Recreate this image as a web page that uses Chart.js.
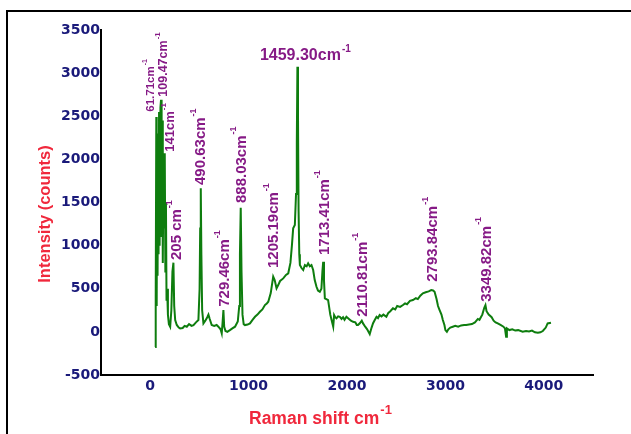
<!DOCTYPE html>
<html>
<head>
<meta charset="utf-8">
<script src="https://cdn.jsdelivr.net/npm/chart.js@4.4.0/dist/chart.umd.min.js"></script>
<style>
html,body{margin:0;padding:0;background:#fff;}
#wrap{width:631px;height:434px;position:relative;}
</style>
</head>
<body>
<div id="wrap"><canvas id="c" width="631" height="434"></canvas></div>
<script>
// Raman spectrum
const ramanShift = [50,56,62,66,70,75,80,85,90,96,104,110,116,122,128,134,140,148,154,160,166,172,180,190,203,215,226,236,244,254,270,290,304,330,350,372,395,420,440,465,490,502,508,514,520,528,541,560,580,592,605,625,650,675,693,715,727,735,744,752,765,784,810,835,862,890,905,912,920,928,938,950,963,990,1014,1040,1065,1090,1115,1140,1166,1185,1200,1225,1250,1265,1284,1300,1320,1352,1380,1403,1425,1440,1453,1470,1482,1490,1496,1502,1508,1515,1521,1538,1555,1572,1590,1605,1622,1639,1656,1672,1690,1705,1724,1740,1750,1758,1766,1775,1790,1808,1830,1852,1860,1869,1880,1893,1910,1927,1945,1960,1975,1994,2020,2040,2062,2085,2100,2112,2130,2150,2163,2185,2205,2231,2250,2265,2282,2300,2315,2332,2350,2370,2400,2420,2440,2467,2490,2510,2540,2569,2590,2610,2640,2670,2700,2720,2745,2771,2800,2830,2856,2875,2890,2910,2925,2941,2960,2974,2990,3000,3015,3030,3050,3075,3100,3130,3160,3190,3211,3240,3270,3300,3330,3346,3375,3395,3407,3418,3440,3470,3490,3510,3532,3560,3590,3605,3617,3625,3650,3680,3710,3740,3785,3820,3850,3880,3910,3940,3965,3990,4020,4039,4073];
const intensity = [-175,400,2490,300,1900,650,2300,900,2550,1000,2600,2690,1100,2450,800,1900,1200,2070,700,1500,360,500,200,90,60,250,700,802,300,137,80,50,40,45,70,60,90,70,79,110,137,500,1200,1664,900,250,98,130,170,200,150,79,70,80,60,30,-17,100,253,60,10,1,20,40,60,120,300,900,1440,700,200,90,79,85,98,140,175,200,233,260,311,330,349,450,640,600,505,540,590,620,660,679,800,1000,1200,1239,1600,2200,3075,2500,1400,900,775,740,717,775,760,795,760,775,717,600,523,480,465,500,700,813,600,389,380,369,200,98,60,195,170,157,180,175,150,170,140,175,150,130,117,110,80,79,100,130,98,60,30,-26,50,100,137,175,160,195,180,200,175,220,240,273,260,300,290,311,330,320,360,369,390,380,420,447,460,470,485,480,465,380,300,253,200,137,80,20,1,30,50,60,70,60,75,80,79,85,90,110,150,140,200,280,311,240,200,170,130,110,98,80,60,40,-57,40,21,30,15,20,1,10,5,15,-5,-10,-5,10,50,98,106];

// Axis ticks
const xTicks = [0,1000,2000,3000,4000];
const yMin = -500, yMax = 3500, yStep = 500;
const xMin = -500, xMax = 4500;

// Peak annotations (rotated), anchored at text bottom in data coords
const peakLabels = ['61.71cm','109.47cm','141cm','205 cm','490.63cm','729.46cm','888.03cm','1205.19cm','1713.41cm','2110.81cm','2793.84cm','3349.82cm'];
const peakLabelX = [5,137,203,269,517,760,928,1257,1775,2160,2870,3417];
const peakLabelY = [2553,2727,2089,833,1703,291,1494,740,891,175,581,349];
const peakLabelSize = [11.5,12.5,13,15,15,15,15,15,15,15,15,15];
// Horizontal annotation
const topLabel = '1459.30cm';
const topLabelX = 1115, topLabelY = 3199;

const FONT = '"Liberation Sans", Arial, sans-serif';
const PURPLE = '#861a86';
const RED = '#f0283c';
const NAVY = '#1a1a7a';

const points = ramanShift.map((x,i)=>({x:x,y:intensity[i]}));

function rotLabel(ctx, text, px, py, size){
  ctx.save();
  ctx.translate(px, py);
  ctx.rotate(-Math.PI/2);
  ctx.font = 'bold ' + size + 'px ' + FONT;
  ctx.textAlign = 'left';
  ctx.textBaseline = 'middle';
  ctx.fillText(text, 0, 0);
  const w = ctx.measureText(text).width;
  ctx.font = 'bold ' + Math.round(size*0.6) + 'px ' + FONT;
  ctx.fillText('-1', w + 1, -size*0.5);
  ctx.restore();
}

const annot = {
  id: 'annot',
  beforeDraw(chart){
    const c = chart.ctx;
    c.save();
    c.fillStyle = '#fff';
    c.fillRect(0,0,chart.width,chart.height);
    c.strokeStyle = '#000';
    c.lineWidth = 2;
    c.beginPath();
    c.moveTo(7, chart.height);
    c.lineTo(7, 11);
    c.lineTo(chart.width, 11);
    c.stroke();
    c.restore();
  },
  afterDraw(chart){
    const c = chart.ctx;
    const xs = chart.scales.x, ys = chart.scales.y;
    c.save();
    c.fillStyle = PURPLE;
    for (let i=0;i<peakLabels.length;i++){
      rotLabel(c, peakLabels[i], xs.getPixelForValue(peakLabelX[i]), ys.getPixelForValue(peakLabelY[i]), peakLabelSize[i]);
    }
    // horizontal top label
    c.font = 'bold 16px ' + FONT;
    c.textAlign = 'left';
    c.textBaseline = 'middle';
    const tx = xs.getPixelForValue(topLabelX), ty = ys.getPixelForValue(topLabelY);
    c.fillText(topLabel, tx, ty);
    const tw = c.measureText(topLabel).width;
    c.font = 'bold 10px ' + FONT;
    c.fillText('-1', tx + tw + 1, ty - 7);

    // axis titles
    c.fillStyle = RED;
    c.save();
    c.translate(45.5, 214);
    c.rotate(-Math.PI/2);
    c.font = 'bold 16.5px ' + FONT;
    c.textAlign = 'center';
    c.textBaseline = 'middle';
    c.fillText('Intensity (counts)', 0, 0);
    c.restore();

    c.font = 'bold 17.5px ' + FONT;
    c.textAlign = 'left';
    c.textBaseline = 'middle';
    const t2 = 'Raman shift cm';
    c.fillText(t2, 249, 419);
    const w2 = c.measureText(t2).width;
    c.font = 'bold 13px ' + FONT;
    c.fillText('-1', 249 + w2 + 1, 410);
    c.restore();
  }
};

new Chart(document.getElementById('c'), {
  type: 'scatter',
  data: {
    datasets: [{
      data: points,
      showLine: true,
      borderColor: '#0e7d0e',
      borderWidth: 2,
      pointRadius: 0,
      tension: 0,
      fill: false
    }]
  },
  options: {
    responsive: false,
    animation: false,
    events: [],
    layout: { padding: { top: 30, right: 38, left: 0, bottom: 0 } },
    plugins: { legend: { display: false }, tooltip: { enabled: false } },
    scales: {
      x: {
        type: 'linear',
        min: xMin, max: xMax,
        afterBuildTicks(s){ s.ticks = xTicks.map(v=>({value:v})); },
        afterFit(s){ s.height = 59; },
        grid: { display: false, drawTicks: false },
        border: { display: true, color: '#000', width: 2 },
        ticks: {
          padding: 3,
          color: NAVY,
          font: { family: '"DejaVu Sans"', weight: 'bold', size: 14 },
          maxRotation: 0,
          callback: v => String(v)
        }
      },
      y: {
        type: 'linear',
        min: yMin, max: yMax,
        afterFit(s){ s.width = 101; },
        grid: { display: false, drawTicks: false },
        border: { display: true, color: '#000', width: 2 },
        ticks: {
          stepSize: yStep,
          padding: 1,
          color: NAVY,
          font: { family: '"DejaVu Sans"', weight: 'bold', size: 14 },
          callback: v => String(v)
        }
      }
    }
  },
  plugins: [annot]
});
</script>
</body>
</html>
